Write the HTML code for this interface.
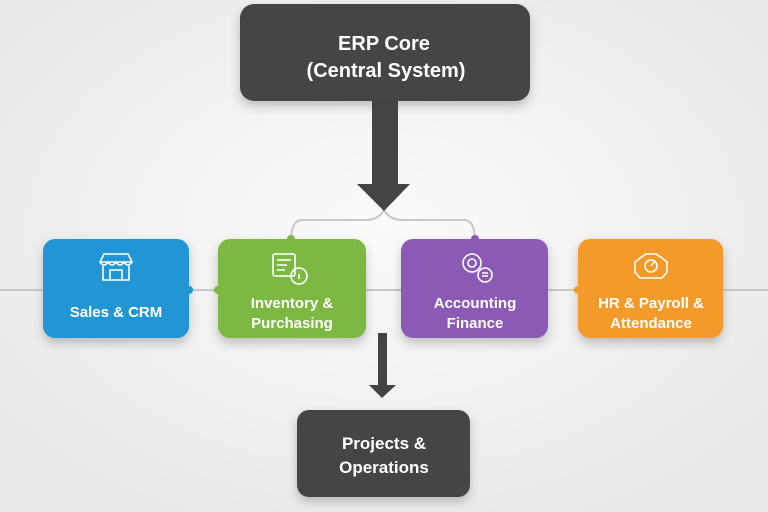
<!DOCTYPE html>
<html><head><meta charset="utf-8"><style>
html,body{margin:0;padding:0;width:768px;height:512px;overflow:hidden;background:#efefef;}
svg{display:block}
text{font-family:"Liberation Sans",sans-serif;font-weight:bold;fill:#fff;text-anchor:middle}
</style></head><body>
<svg width="768" height="512" viewBox="0 0 768 512">
<defs>
<radialGradient id="bg" cx="50%" cy="45%" r="65%"><stop offset="0" stop-color="#fbfbfb"/><stop offset="1" stop-color="#e8e8e8"/></radialGradient>
<filter id="sh" x="-20%" y="-20%" width="140%" height="160%"><feDropShadow dx="0" dy="5" stdDeviation="5" flood-color="#000" flood-opacity="0.22"/></filter>
</defs>
<rect width="768" height="512" fill="url(#bg)"/>
<!-- connectors -->
<line x1="0" y1="290" x2="768" y2="290" stroke="#c8c8c8" stroke-width="2"/>
<path d="M384 210 Q378 220 366 220 L302 220 Q292 220 291 238 M384 210 Q390 220 402 220 L464 220 Q474 220 475 238" fill="none" stroke="#c8c8c8" stroke-width="2"/>
<!-- top box -->
<rect x="240" y="4" width="290" height="97" rx="14" fill="#444" filter="url(#sh)"/>
<text x="384" y="50" font-size="20">ERP Core</text>
<text x="386" y="77" font-size="20">(Central System)</text>
<!-- big arrow -->
<polygon points="372,101 398,101 398,184 410,184 384,211 357,184 372,184" fill="#444"/>
<!-- boxes -->
<g filter="url(#sh)">
<rect x="43" y="239" width="146" height="99" rx="12" fill="#2196d4"/>
<rect x="218" y="239" width="148" height="99" rx="12" fill="#7cb843"/>
<rect x="401" y="239" width="147" height="99" rx="12" fill="#8a5ab4"/>
<rect x="578" y="239" width="145" height="99" rx="12" fill="#f39a2c"/>
</g>
<circle cx="189" cy="290" r="4" fill="#2196d4"/><circle cx="218" cy="290" r="4" fill="#7cb843"/>
<circle cx="291" cy="239" r="4" fill="#7cb843"/><circle cx="475" cy="239" r="4" fill="#8a5ab4"/>
<circle cx="578" cy="290" r="4" fill="#f39a2c"/>
<text x="116" y="317" font-size="15">Sales &amp; CRM</text>
<text x="292" y="308" font-size="15">Inventory &amp;</text>
<text x="292" y="328" font-size="15">Purchasing</text>
<text x="475" y="308" font-size="15">Accounting</text>
<text x="475" y="328" font-size="15">Finance</text>
<text x="651" y="308" font-size="15">HR &amp; Payroll &amp;</text>
<text x="651" y="328" font-size="15">Attendance</text>
<!-- icons -->
<g fill="none" stroke="#fff" stroke-width="1.6">
<path d="M100 262 L132 262 L128 254 L104 254 Z M100 262 q4 6 8 0 q4 6 8 0 q4 6 8 0 q4 6 8 0 M103 266 V280 H129 V266 M110 280 V270 H122 V280"/>
<rect x="273" y="254" width="22" height="22" rx="2"/><path d="M277 260 h14 M277 265 h10 M277 270 h8"/><circle cx="299" cy="276" r="8"/><path d="M299 274 v5"/>
<circle cx="472" cy="263" r="9"/><circle cx="472" cy="263" r="4"/><circle cx="485" cy="275" r="7"/><path d="M482 273 h6 M482 276 h6"/>
<path d="M640 258 L646 254 H656 L662 258 L667 262 V272 L662 278 H640 L635 272 V262 Z"/><circle cx="651" cy="266" r="6"/><path d="M651 266 l3 -4"/>
</g>
<!-- small arrow -->
<polygon points="378,333 387,333 387,385 396,385 382,398 369,385 378,385" fill="#444"/>
<!-- bottom box -->
<rect x="297" y="410" width="173" height="87" rx="12" fill="#444" filter="url(#sh)"/>
<text x="384" y="449" font-size="17">Projects &amp;</text>
<text x="384" y="473" font-size="17">Operations</text>
</svg>
</body></html>
